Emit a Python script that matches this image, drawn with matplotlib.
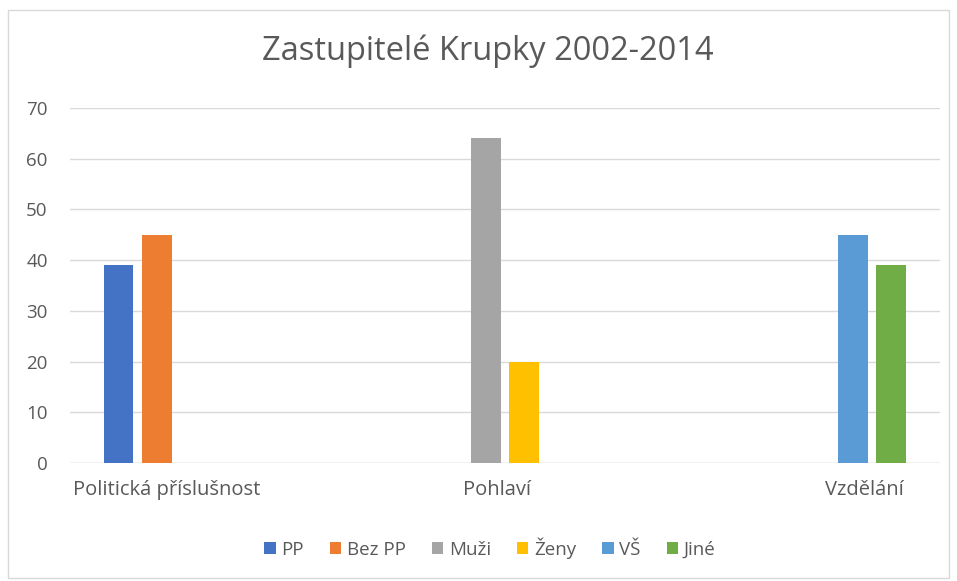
import numpy as np
import matplotlib.pyplot as plt
from matplotlib.patches import Rectangle

plt.rcParams['font.family'] = ['Open Sans', 'DejaVu Sans']

kategorie = ['Politická příslušnost', 'Pohlaví', 'Vzdělání']
serie = ['PP', 'Bez PP', 'Muži', 'Ženy', 'VŠ', 'Jiné']
# hodnoty: radky = serie, sloupce = kategorie
hodnoty = [
    [39, 0, 0],
    [45, 0, 0],
    [0, 64, 0],
    [0, 20, 0],
    [0, 0, 45],
    [0, 0, 39],
]
barvy = ['#4472c4', '#ed7d31', '#a5a5a5', '#ffc000', '#5b9bd5', '#70ad47']
# posun popisku kategorie (Excel je neumistil presne na stred)
posun_popisku = [-0.166, -0.028, 0.238]

fig = plt.figure(figsize=(9.57, 5.81), dpi=100)
ax = fig.add_axes([0.0731, 0.203, 0.909, 0.611])

x = np.arange(len(kategorie))
krok = 0.133
sirka = 0.103
for i, (jmeno, vals) in enumerate(zip(serie, hodnoty)):
    ax.bar(x + (i - 2.5) * krok, vals, width=sirka, color=barvy[i],
           label=jmeno, zorder=3)

ax.set_xlim(-0.5, 2.5)
ax.set_ylim(0, 70)
ax.set_yticks(range(0, 71, 10))
ax.tick_params(axis='y', length=0, labelsize=13.5, labelcolor='#595959', pad=16)
ax.set_xticks(x + np.array(posun_popisku))
ax.set_xticklabels(kategorie)
ax.tick_params(axis='x', length=0, labelsize=14.5, labelcolor='#595959', pad=12)
ax.grid(axis='y', color='#d9d9d9', lw=1, zorder=0)
for s in ax.spines.values():
    s.set_visible(False)
ax.axhline(0, color='#d9d9d9', lw=1, zorder=2)

fig.suptitle('Zastupitelé Krupky 2002-2014', x=0.51, y=0.94, fontsize=23.5,
             color='#595959')

leg = fig.legend(loc='center', bbox_to_anchor=(0.512, 0.057), ncol=6,
                 frameon=False, fontsize=13.5, handlelength=0.6,
                 handleheight=0.6, handletextpad=0.3, columnspacing=1.4)
for t in leg.get_texts():
    t.set_color('#595959')

fig.patches.append(Rectangle((0.008, 0.005), 0.984, 0.978,
                             transform=fig.transFigure, fill=False,
                             edgecolor='#d9d9d9', lw=1))

fig.savefig('out.png', dpi=100)
